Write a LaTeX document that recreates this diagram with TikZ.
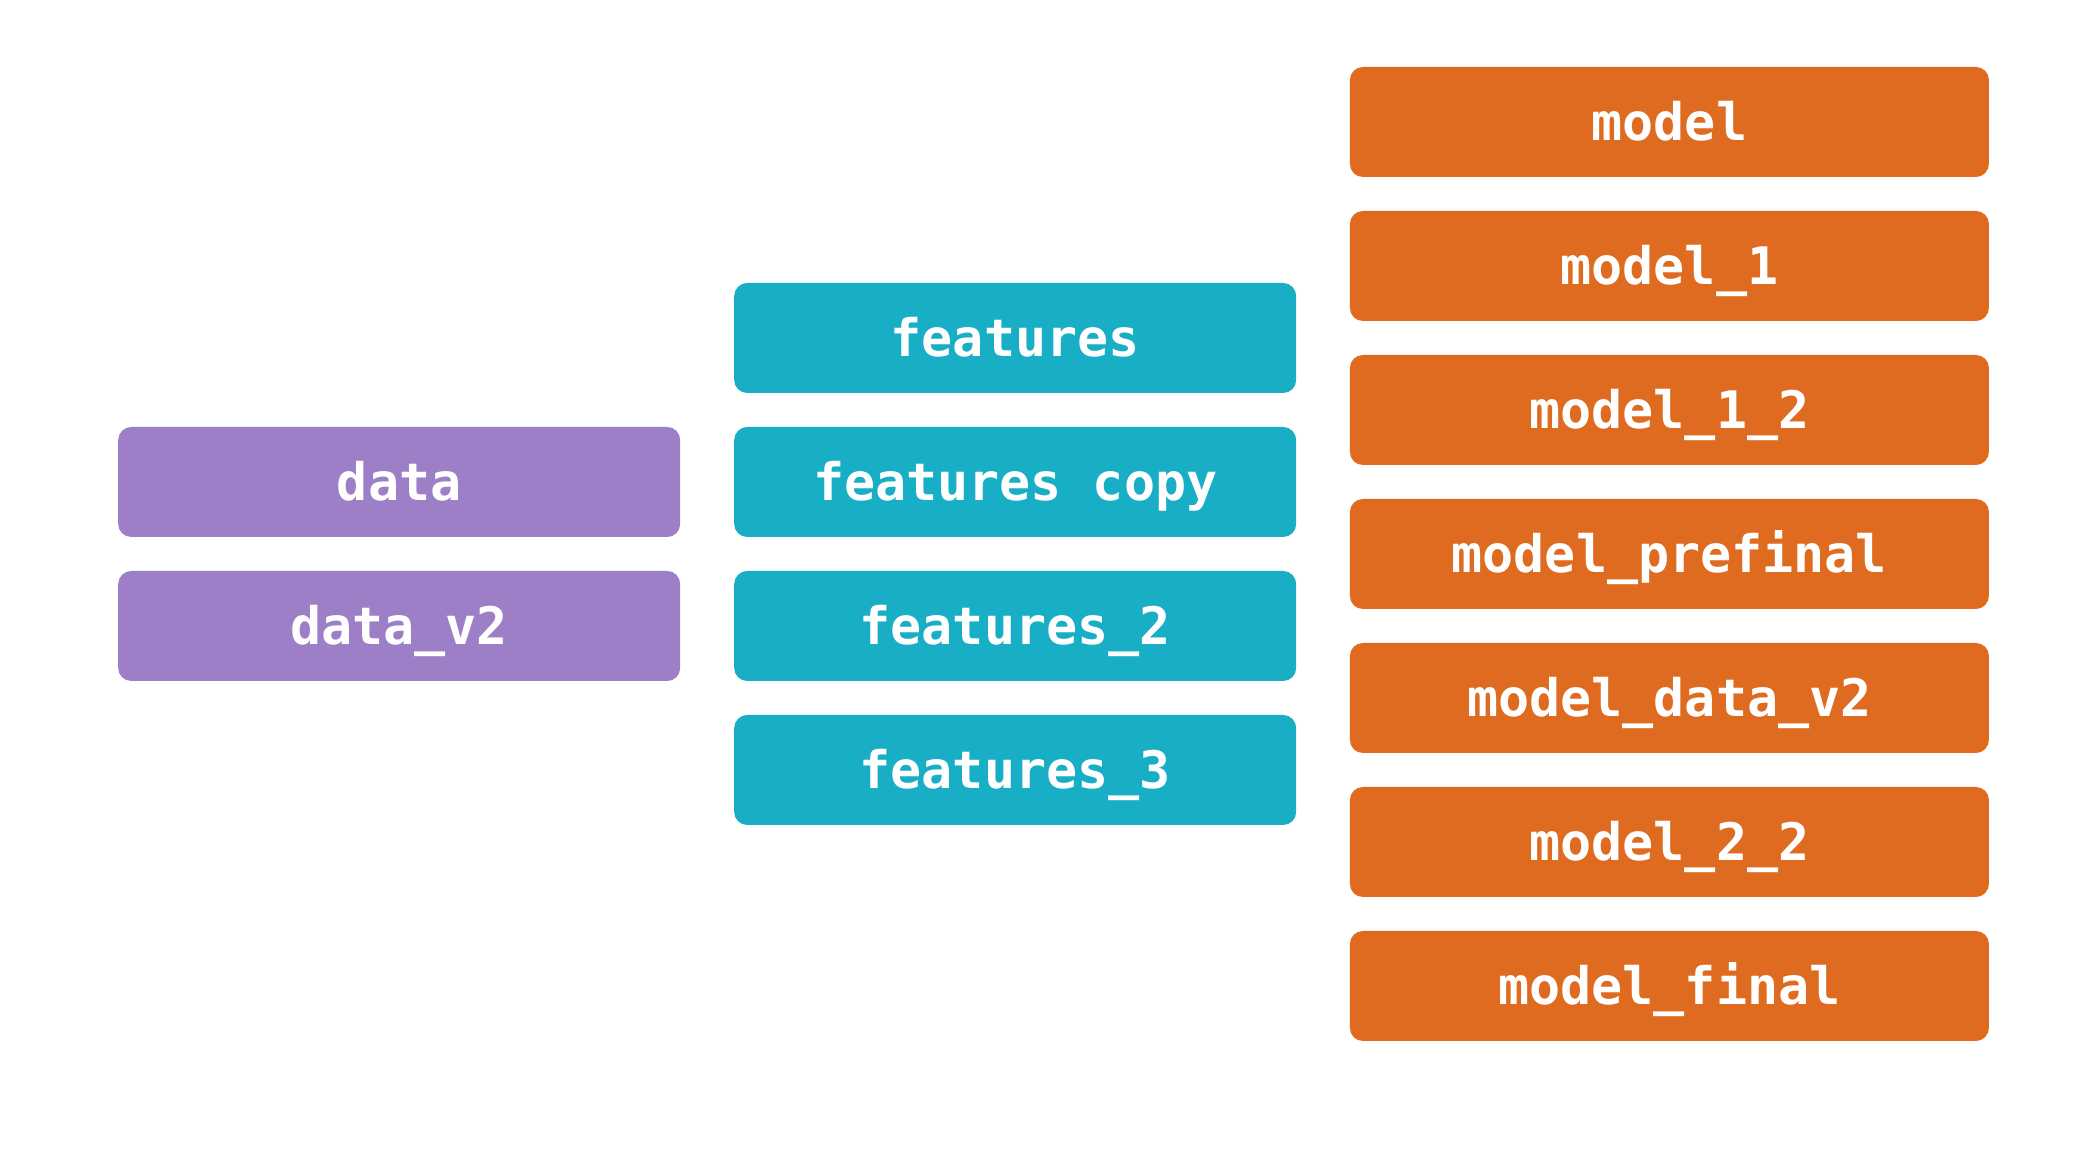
\documentclass[tikz,border=0pt]{standalone}
\usepackage{fontspec}
\setmonofont{DejaVu Sans Mono}
\usetikzlibrary{positioning}
\definecolor{datacolor}{HTML}{9D7FC7}
\definecolor{featurecolor}{HTML}{18AEC6}
\definecolor{modelcolor}{HTML}{DF6B21}
\newcommand{\narrowwidth}{5.62cm}
\newcommand{\widewidth}{6.39cm}
\newcommand{\boxheight}{1.1cm}
\tikzset{
	artifact/.style={rounded corners=1.3mm, minimum height=\boxheight,
		inner sep=0pt, text=white, text height=1.04em, text depth=0pt,
		font=\fontsize{14.7pt}{17pt}\selectfont\ttfamily\bfseries},
	databox/.style={artifact, fill=datacolor, minimum width=\narrowwidth},
	featbox/.style={artifact, fill=featurecolor, minimum width=\narrowwidth},
	modelbox/.style={artifact, fill=modelcolor, minimum width=\widewidth}
}

\begin{document}
\begin{tikzpicture}
			\useasboundingbox (0, 0) rectangle (21, 11.64);

			% data
			\node[databox] (data) at (3.992, 6.82) {data};
			\node[databox] (datav2) at (3.992, 5.38) {data\_v2};

			% features
			\node[featbox] (feat) at (10.152, 8.26) {features};
			\node[featbox] (featcopy) at (10.152, 6.82) {features copy};
			\node[featbox] (feat2) at (10.152, 5.38) {features\_2};
			\node[featbox] (feat3) at (10.152, 3.94) {features\_3};

			% models
			\node[modelbox] (model) at (16.694, 10.42) {model};
			\node[modelbox] (model1) at (16.694, 8.98) {model\_1};
			\node[modelbox] (model12) at (16.694, 7.54) {model\_1\_2};
			\node[modelbox] (modelpre) at (16.694, 6.10) {model\_prefinal};
			\node[modelbox] (modeldata) at (16.694, 4.66) {model\_data\_v2};
			\node[modelbox] (model22) at (16.694, 3.22) {model\_2\_2};
			\node[modelbox] (modelfinal) at (16.694, 1.78) {model\_final};

		\end{tikzpicture}
\end{document}
